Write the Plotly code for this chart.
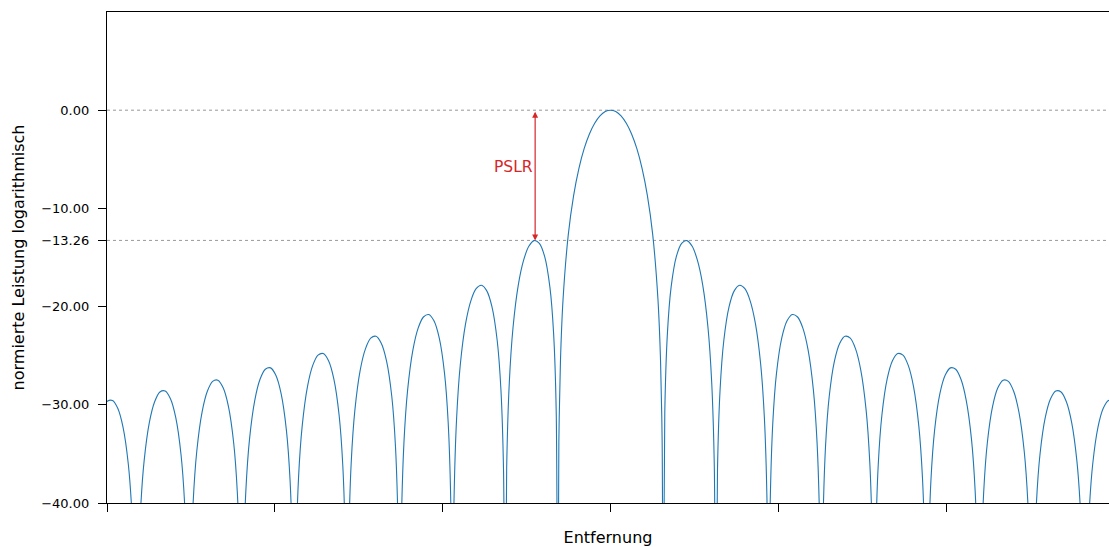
import plotly.graph_objects as go

# ---- data (x in units of null spacing, y in dB) ----
MAIN_X = [-1.0, -0.98, -0.95, -0.9, -0.8, -0.7, -0.6, -0.5, -0.4, -0.3, -0.2, -0.1, 0.0,
          0.1, 0.2, 0.3, 0.4, 0.5, 0.6, 0.7, 0.8, 0.9, 0.95, 0.98, 1.0]
MAIN_DB = [-60.0, -33.81, -25.61, -19.23, -12.62, -8.69, -5.94, -3.92, -2.42, -1.33, -0.58, -0.14, 0.0,
           -0.14, -0.58, -1.33, -2.42, -3.92, -5.94, -8.69, -12.62, -19.23, -25.61, -33.81, -60.0]

# offsets within each side lobe (from its inner null outward)
LOBE_OFFSETS = [0.0, 0.03, 0.08, 0.15, 0.25, 0.35, 0.45, 0.55, 0.65, 0.75, 0.85, 0.92, 0.97]
LOBE_1 = [-60.0, -30.73, -22.70, -18.02, -14.89, -13.55, -13.28, -13.86, -15.30, -17.81, -22.15, -27.70, -36.36]
LOBE_2 = [-60.0, -36.62, -28.39, -23.45, -20.00, -18.37, -17.83, -18.18, -19.41, -21.74, -25.90, -31.34, -39.93]
LOBE_3 = [-60.0, -40.10, -31.80, -26.77, -23.19, -21.45, -20.81, -21.06, -22.19, -24.43, -28.51, -33.90, -42.45]
LOBE_4 = [-60.0, -42.58, -34.25, -29.16, -25.52, -23.72, -23.02, -23.21, -24.30, -26.49, -30.52, -35.87, -44.40]
LOBE_5 = [-60.0, -44.50, -36.15, -31.04, -27.36, -25.51, -24.78, -24.94, -25.99, -28.15, -32.15, -37.48, -45.99]
LOBE_6 = [-60.0, -46.08, -37.71, -32.58, -28.87, -27.00, -26.24, -26.38, -27.40, -29.54, -33.52, -38.84, -47.34]
LOBE_7 = [-60.0, -47.41, -39.03, -33.89, -30.16, -28.27, -27.49, -27.61, -28.62, -30.74, -34.70, -40.01, -48.50]
LOBE_8 = [-60.0, -48.57, -40.18, -35.03, -31.28, -29.38, -28.59, -28.69, -29.69, -31.79, -35.74, -41.04, -49.53]
LOBE_9 = [-60.0, -49.59, -41.20, -36.03, -32.28, -30.36, -29.56, -29.65, -30.64]
SIDELOBES = [LOBE_1, LOBE_2, LOBE_3, LOBE_4, LOBE_5, LOBE_6, LOBE_7, LOBE_8, LOBE_9]

PSLR_DB = -13.26
PSLR_X = -1.43
PSLR_LABEL_DB = -5.83
Y_TICKS = [0.0, -10.0, -13.26, -20.0, -30.0, -40.0]
Y_TICK_TEXT = ["0.00", "\u221210.00", "\u221213.26", "\u221220.00", "\u221230.00", "\u221240.00"]
X_TICKS = [-9.55, -6.37, -3.18, 0.0, 3.18, 6.37, 9.55]
X_RANGE = [-9.554, 9.459]
Y_RANGE = [-40, 10]

# ---- assemble the symmetric curve ----
right_x, right_y = [], []
for n, lobe in enumerate(SIDELOBES, start=1):
    for off, v in zip(LOBE_OFFSETS, lobe):
        right_x.append(n + off)
        right_y.append(v)
left_x = [-v for v in reversed(right_x)]
left_y = list(reversed(right_y))
curve_x = left_x + MAIN_X[1:-1] + right_x
curve_y = left_y + MAIN_DB[1:-1] + right_y

FONT = "DejaVu Sans"
BLUE = "#1f77b4"
RED = "#d62728"

fig = go.Figure()
fig.add_trace(go.Scatter(x=curve_x, y=curve_y, mode="lines",
                         line=dict(color=BLUE, width=1.1, shape="spline", smoothing=0.8),
                         hoverinfo="skip", showlegend=False))

for yv in (0.0, PSLR_DB):
    fig.add_shape(type="line", xref="paper", x0=0, x1=1, yref="y", y0=yv, y1=yv,
                  line=dict(color="#999999", width=1, dash="dot"), layer="below")

fig.add_annotation(x=PSLR_X, y=PSLR_DB, ax=PSLR_X, ay=0.0, xref="x", yref="y", axref="x", ayref="y",
                   showarrow=True, arrowhead=2, startarrowhead=2, arrowside="end+start",
                   arrowsize=1, startarrowsize=1, arrowwidth=1.2, arrowcolor=RED, text="")
fig.add_annotation(x=PSLR_X, y=PSLR_LABEL_DB, xref="x", yref="y", text="PSLR", showarrow=False,
                   xanchor="right", yanchor="middle", font=dict(family=FONT, size=15.5, color=RED))

fig.update_layout(
    width=1109, height=547,
    margin=dict(l=107, r=0, t=12, b=44, autoexpand=False),
    paper_bgcolor="white", plot_bgcolor="white",
    font=dict(family=FONT, size=13, color="black"),
    showlegend=False,
)
fig.update_xaxes(range=X_RANGE, tickvals=X_TICKS, showticklabels=False,
                 ticks="outside", ticklen=8, tickwidth=1.2, tickcolor="black",
                 showline=True, linecolor="black", linewidth=1.2, mirror=True,
                 showgrid=False, zeroline=False, automargin=False,
                 title=dict(text="Entfernung", font=dict(family=FONT, size=16), standoff=25))
fig.update_yaxes(range=Y_RANGE, tickvals=Y_TICKS, ticktext=Y_TICK_TEXT,
                 ticks="outside", ticklen=8, tickwidth=1.2, tickcolor="black",
                 ticklabelstandoff=6,
                 showline=True, linecolor="black", linewidth=1.2,
                 showgrid=False, zeroline=False, automargin=False,
                 title=dict(text="normierte Leistung logarithmisch", font=dict(family=FONT, size=16), standoff=12))

# remove the browser's default page margin so the 1109x547 figure fills the window exactly
fig.write_html("out.html",
               config={"displayModeBar": False},
               post_script="document.body.style.margin='0';document.body.style.overflow='hidden';")
